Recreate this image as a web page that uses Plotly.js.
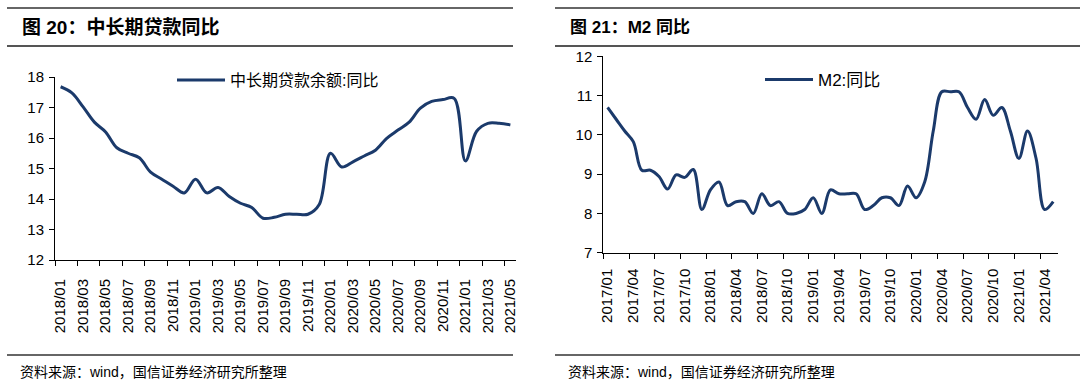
<!DOCTYPE html>
<html>
<head>
<meta charset="utf-8">
<script src="https://cdn.plot.ly/plotly-3.0.1.min.js"></script>
<style>
html,body{margin:0;padding:0;background:#fff;}
#chart{width:1080px;height:392px;}
</style>
</head>
<body>
<div id="chart"></div>
<script>
// ---- Data: 中长期贷款余额:同比 (2018/01 - 2021/05) ----
const loanMonths = [
  "2018/01","2018/02","2018/03","2018/04","2018/05","2018/06","2018/07","2018/08","2018/09","2018/10","2018/11","2018/12",
  "2019/01","2019/02","2019/03","2019/04","2019/05","2019/06","2019/07","2019/08","2019/09","2019/10","2019/11","2019/12",
  "2020/01","2020/02","2020/03","2020/04","2020/05","2020/06","2020/07","2020/08","2020/09","2020/10","2020/11","2020/12",
  "2021/01","2021/02","2021/03","2021/04","2021/05"
];
const loanYoY = [
  17.68,17.48,17.02,16.52,16.2,15.68,15.5,15.35,14.88,14.65,14.42,14.2,
  14.65,14.2,14.38,14.08,13.86,13.72,13.37,13.4,13.5,13.5,13.5,13.82,
  15.5,15.05,15.22,15.41,15.6,15.99,16.26,16.52,16.98,17.2,17.26,17.3,
  15.25,16.22,16.48,16.48,16.43
];

// ---- Data: M2:同比 (2017/01 - 2021/05) ----
const m2Months = [
  "2017/01","2017/02","2017/03","2017/04","2017/05","2017/06","2017/07","2017/08","2017/09","2017/10","2017/11","2017/12",
  "2018/01","2018/02","2018/03","2018/04","2018/05","2018/06","2018/07","2018/08","2018/09","2018/10","2018/11","2018/12",
  "2019/01","2019/02","2019/03","2019/04","2019/05","2019/06","2019/07","2019/08","2019/09","2019/10","2019/11","2019/12",
  "2020/01","2020/02","2020/03","2020/04","2020/05","2020/06","2020/07","2020/08","2020/09","2020/10","2020/11","2020/12",
  "2021/01","2021/02","2021/03","2021/04","2021/05"
];
const m2YoY = [
  10.7,10.4,10.1,9.83,9.1,9.1,8.94,8.62,8.98,8.92,9.12,8.1,
  8.6,8.8,8.2,8.3,8.3,8.0,8.5,8.2,8.3,8.0,8.0,8.1,
  8.4,8.0,8.6,8.5,8.5,8.5,8.1,8.2,8.4,8.4,8.2,8.7,
  8.4,8.8,10.1,11.1,11.1,11.1,10.7,10.4,10.9,10.5,10.7,10.1,
  9.4,10.1,9.4,8.1,8.3
];

const titleLeft = "图 20：中长期贷款同比";
const titleRight = "图 21：M2 同比";
const loanName = "中长期贷款余额:同比";
const m2Name = "M2:同比";
const sourceText = "资料来源：wind，国信证券经济研究所整理";

const W = 1080, H = 392;
const px = x => x / W;
const py = y => 1 - y / H;

const LINE = "#1B3A6B";
const FONT = "Liberation Sans, Arial, Noto Sans CJK SC, sans-serif";
const CJK = "Liberation Sans, Noto Sans CJK SC, sans-serif";

const traces = [
  {x: loanMonths, y: loanYoY, type: "scatter", mode: "lines", name: loanName,
   line: {color: LINE, width: 3, shape: "spline", smoothing: 1},
   xaxis: "x", yaxis: "y", showlegend: true, legend: "legend"},
  {x: m2Months, y: m2YoY, type: "scatter", mode: "lines", name: m2Name,
   line: {color: LINE, width: 3, shape: "spline", smoothing: 1},
   xaxis: "x2", yaxis: "y2", showlegend: true, legend: "legend2"}
];

const axisCommon = {
  showgrid: false, zeroline: false, showline: true, linecolor: "#000", linewidth: 1,
  ticks: "outside", ticklen: 5, tickcolor: "#000", tickwidth: 1,
  tickfont: {family: FONT, size: 15, color: "#000"}
};

const layout = {
  width: W, height: H,
  margin: {l: 0, r: 0, t: 0, b: 0, pad: 0},
  paper_bgcolor: "#fff", plot_bgcolor: "rgba(0,0,0,0)",
  showlegend: true,
  xaxis: Object.assign({}, axisCommon, {
    type: "category", domain: [px(55), px(516)], anchor: "y",
    range: [-0.5, loanMonths.length - 0.5], dtick: 2, tickson: "boundaries",
    tickangle: -90, ticklabelstandoff: 12
  }),
  yaxis: Object.assign({}, axisCommon, {
    domain: [py(260), py(77)], anchor: "x", range: [12, 18], dtick: 1,
    ticklabelstandoff: 2
  }),
  xaxis2: Object.assign({}, axisCommon, {
    type: "category", domain: [px(603.3), px(1057.5)], anchor: "y2",
    range: [-0.5, m2Months.length - 0.5], dtick: 3, tickson: "boundaries",
    tickangle: -90, ticklabelstandoff: 9
  }),
  yaxis2: Object.assign({}, axisCommon, {
    domain: [py(252.7), py(56.45)], anchor: "x2", range: [7, 12], dtick: 1,
    ticklabelstandoff: 2
  }),
  legend: {
    x: px(172), y: py(63), xanchor: "left", yanchor: "top",
    bgcolor: "rgba(0,0,0,0)", borderwidth: 0, itemwidth: 48,
    font: {family: CJK, size: 16, color: "#000"}
  },
  legend2: {
    x: px(760), y: py(62), xanchor: "left", yanchor: "top",
    bgcolor: "rgba(0,0,0,0)", borderwidth: 0, itemwidth: 48,
    font: {family: CJK, size: 17, color: "#000"}
  },
  shapes: [
    {type: "line", xref: "paper", yref: "paper", x0: px(7), x1: px(513), y0: py(8), y1: py(8), line: {color: "#333", width: 1.5}},
    {type: "line", xref: "paper", yref: "paper", x0: px(7), x1: px(513), y0: py(46), y1: py(46), line: {color: "#555", width: 2}},
    {type: "line", xref: "paper", yref: "paper", x0: px(7), x1: px(513), y0: py(355), y1: py(355), line: {color: "#333", width: 1.5}},
    {type: "line", xref: "paper", yref: "paper", x0: px(555), x1: px(1080), y0: py(8), y1: py(8), line: {color: "#333", width: 1.5}},
    {type: "line", xref: "paper", yref: "paper", x0: px(555), x1: px(1080), y0: py(46), y1: py(46), line: {color: "#555", width: 2}},
    {type: "line", xref: "paper", yref: "paper", x0: px(555), x1: px(1080), y0: py(355), y1: py(355), line: {color: "#333", width: 1.5}}
  ],
  annotations: [
    {text: "<b>" + titleLeft + "</b>", xref: "paper", yref: "paper", x: px(20), y: py(28),
     xanchor: "left", yanchor: "middle", showarrow: false,
     font: {family: CJK, size: 19, color: "#000"}},
    {text: "<b>" + titleRight + "</b>", xref: "paper", yref: "paper", x: px(568), y: py(28),
     xanchor: "left", yanchor: "middle", showarrow: false,
     font: {family: CJK, size: 17, color: "#000"}},
    {text: sourceText, xref: "paper", yref: "paper", x: px(18), y: py(372),
     xanchor: "left", yanchor: "middle", showarrow: false,
     font: {family: CJK, size: 14, color: "#000"}},
    {text: sourceText, xref: "paper", yref: "paper", x: px(566), y: py(372),
     xanchor: "left", yanchor: "middle", showarrow: false,
     font: {family: CJK, size: 14, color: "#000"}}
  ]
};

Plotly.newPlot("chart", traces, layout, {staticPlot: true, displayModeBar: false});
</script>
</body>
</html>
